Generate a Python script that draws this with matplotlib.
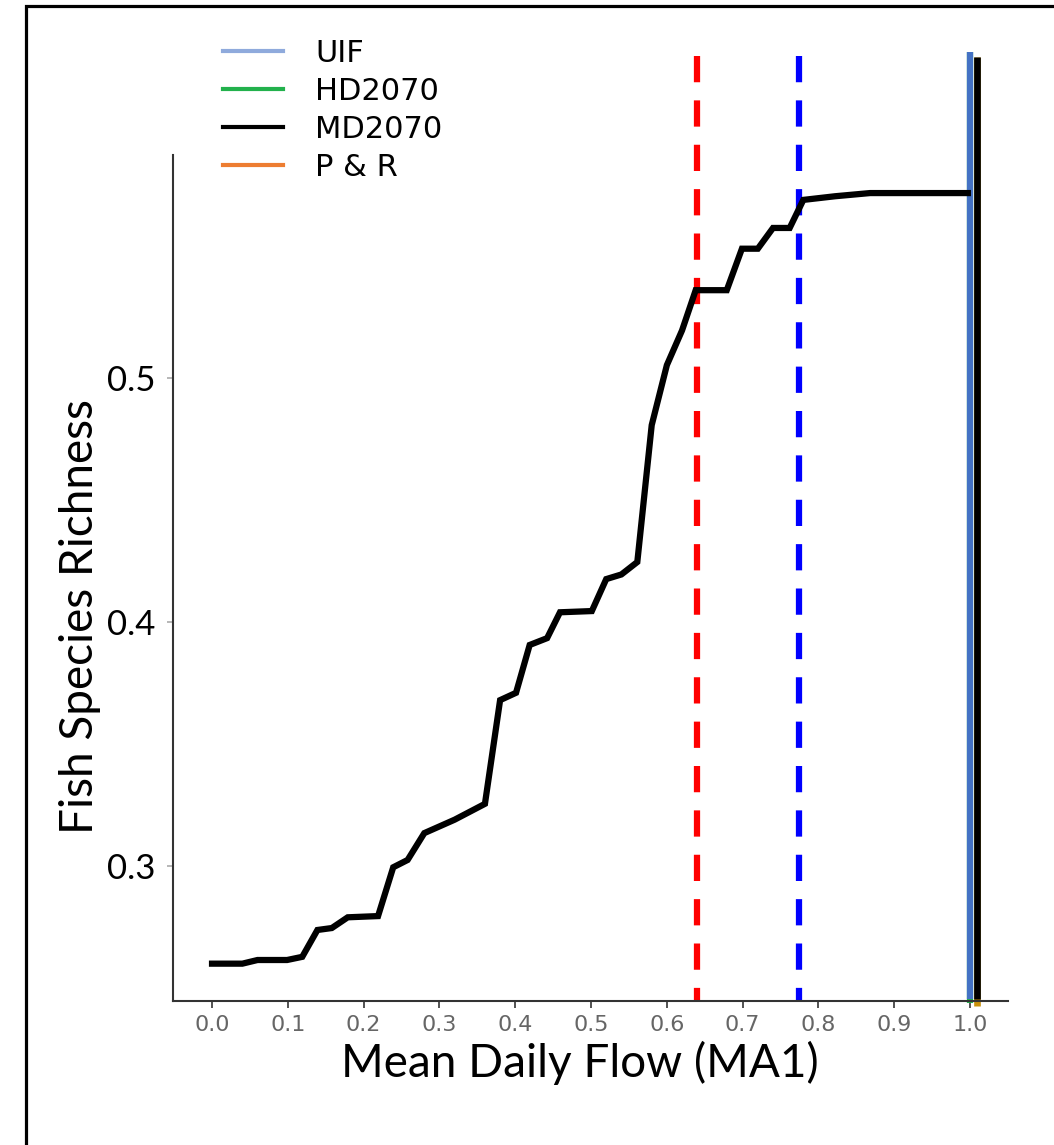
import matplotlib
matplotlib.use("Agg")
import matplotlib.pyplot as plt
from matplotlib.patches import Rectangle
from matplotlib.lines import Line2D

# curve (MA1 vs fish species richness)
flow = [0.0, 0.04, 0.06, 0.099, 0.119, 0.139, 0.158, 0.179, 0.219, 0.239, 0.258,
        0.28, 0.32, 0.36, 0.38, 0.401, 0.419, 0.442, 0.459, 0.501, 0.52, 0.54,
        0.561, 0.58, 0.6, 0.62, 0.638, 0.679, 0.699, 0.72, 0.74, 0.762, 0.78,
        0.822, 0.868, 0.997]
richness = [0.260, 0.260, 0.2615, 0.2615, 0.2628, 0.2738, 0.2746, 0.279, 0.2795,
            0.2995, 0.3025, 0.3135, 0.319, 0.3255, 0.368, 0.371, 0.3906, 0.3934,
            0.404, 0.4045, 0.4176, 0.4195, 0.4246, 0.4807, 0.5053, 0.5195, 0.536,
            0.536, 0.553, 0.553, 0.5615, 0.5615, 0.573, 0.5745, 0.5758, 0.5758]

# scenario markers
red_x = 0.64
blue_x = 0.774
uif_x = 1.0
md_x = 1.009
marker_top = 0.632

legend_labels = ["UIF", "HD2070", "MD2070", "P & R"]
legend_colors = ["#8faadc", "#22b14c", "black", "#ed7d31"]

xticks = [0.0, 0.1, 0.2, 0.3, 0.4, 0.5, 0.6, 0.7, 0.8, 0.9, 1.0]
yticks = [0.3, 0.4, 0.5]

fig = plt.figure(figsize=(10.54, 11.45), dpi=100)
ax = fig.add_axes([173 / 1054, 1 - 1001 / 1145, 835 / 1054, 846 / 1145])

ax.set_xlim(-0.0515, 1.05)
ax.set_ylim(0.2447, 0.5914)

ybot = 0.2447
# vertical reference lines (go above the panel)
ax.plot([red_x, red_x], [marker_top, ybot], color="red", lw=4.5,
        dashes=(4.2, 2.9), clip_on=False, solid_capstyle="butt")
ax.plot([blue_x, blue_x], [marker_top, ybot], color="blue", lw=4.5,
        dashes=(4.2, 2.9), clip_on=False, solid_capstyle="butt")
ax.plot([uif_x, uif_x], [ybot - 0.001, 0.6336], color="#22b14c", lw=4.5,
        clip_on=False, solid_capstyle="butt")
ax.plot([uif_x, uif_x], [ybot + 0.001, 0.6336], color="#4472c4", lw=4.5,
        clip_on=False, solid_capstyle="butt")
ax.plot([md_x, md_x], [ybot - 0.002, 0.6316], color="#c8900a", lw=4.8,
        clip_on=False, solid_capstyle="butt")
ax.plot([md_x, md_x], [ybot + 0.001, 0.6316], color="black", lw=4.8,
        clip_on=False, solid_capstyle="butt")

# main curve
ax.plot(flow, richness, color="black", lw=4.5, solid_joinstyle="miter")

for s in ["top", "right"]:
    ax.spines[s].set_visible(False)
for s in ["left", "bottom"]:
    ax.spines[s].set_color("#333333")
    ax.spines[s].set_linewidth(1.5)

ax.set_xticks(xticks)
ax.set_xticklabels([f"{t:.1f}" for t in xticks], color="#666666",
                   fontsize=16, family="DejaVu Sans")
ax.tick_params(axis="x", length=5, width=1.3, color="#444444", pad=5)
ax.set_yticks(yticks)
ax.set_yticklabels([f"{t:.1f}" for t in yticks], fontsize=25, family="Lato")
ax.tick_params(axis="y", length=4.5, width=1.2, color="#aaaaaa", pad=8)

fig.text(580 / 1054, 1 - 1063 / 1145, "Mean Daily Flow (MA1)", fontsize=33,
         family="Lato", ha="center", va="center")
fig.text(80 / 1054, 1 - 617 / 1145, "Fish Species Richness", fontsize=33,
         family="Lato", ha="center", va="center", rotation=90)

handles = [Line2D([], [], color=c, lw=3) for c in legend_colors]
fig.legend(handles, legend_labels, loc="upper left",
           bbox_to_anchor=(223 / 1054, 1 - 39 / 1145), frameon=False,
           borderpad=0, borderaxespad=0, handlelength=1.96, handletextpad=1.05,
           labelspacing=0.29, prop={"family": "DejaVu Sans", "size": 22})

# outer frame of the original figure panel
fig.patches.append(Rectangle((26 / 1054, -0.05), 1.2, 1.05 - 6 / 1145,
                             transform=fig.transFigure, fill=False,
                             edgecolor="black", lw=2.3))

fig.savefig("out.png", dpi=100)
